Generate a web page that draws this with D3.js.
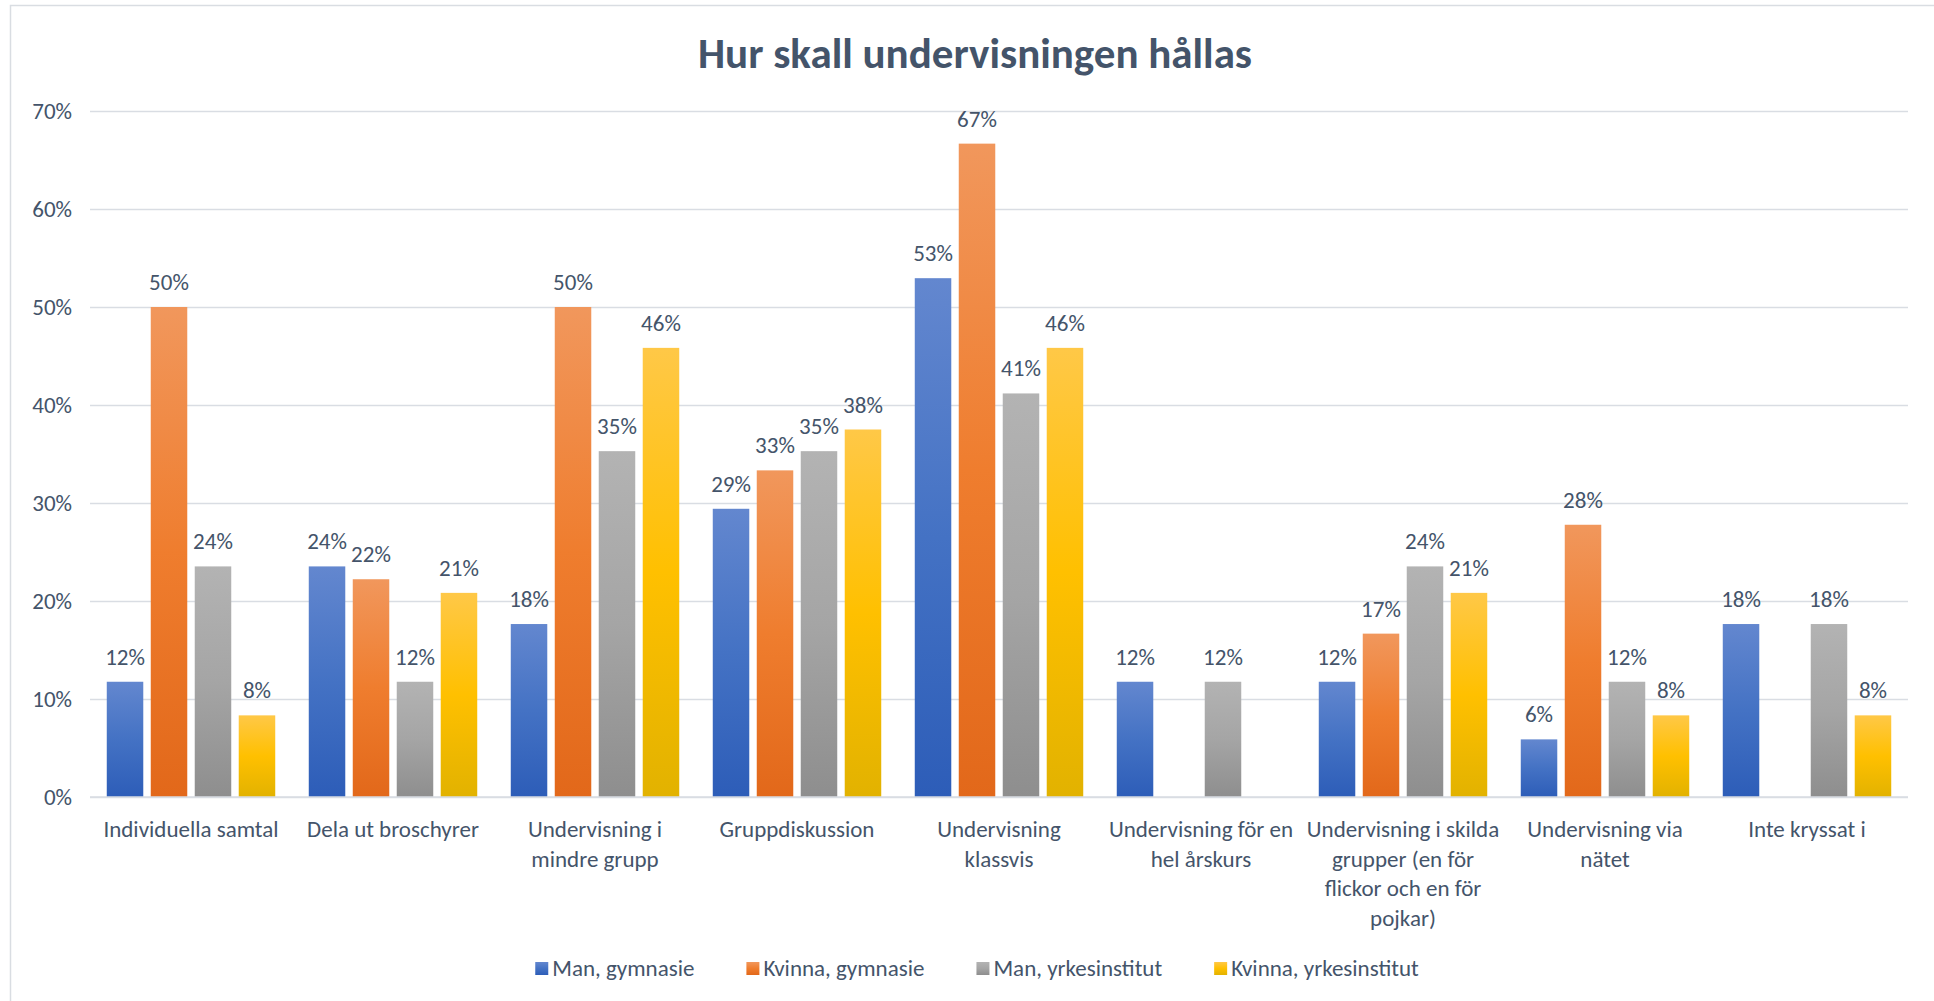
<!DOCTYPE html>
<html>
<head>
<meta charset="utf-8">
<script src="https://cdn.jsdelivr.net/npm/d3@7"></script>
<style>
  html, body { margin: 0; padding: 0; background: #ffffff; }
  svg { display: block; }
  text { font-family: Carlito, Lato, "Noto Sans", sans-serif; fill: #44546a; }
</style>
</head>
<body>
<script>
const titleText = "Hur skall undervisningen hållas";

const categories = [
  "Individuella samtal",
  "Dela ut broschyrer",
  "Undervisning i\nmindre grupp",
  "Gruppdiskussion",
  "Undervisning\nklassvis",
  "Undervisning för en\nhel årskurs",
  "Undervisning i skilda\ngrupper (en för\nflickor och en för\npojkar)",
  "Undervisning via\nnätet",
  "Inte kryssat i"
];

const seriesNames = ["Man, gymnasie", "Kvinna, gymnasie", "Man, yrkesinstitut", "Kvinna, yrkesinstitut"];

const manGymnasie      = [0.1176, 0.2353, 0.1765, 0.2941, 0.5294, 0.1176, 0.1176, 0.0588, 0.1765];
const kvinnaGymnasie   = [0.5000, 0.2222, 0.5000, 0.3333, 0.6667, 0.0000, 0.1667, 0.2778, 0.0000];
const manYrkes         = [0.2353, 0.1176, 0.3529, 0.3529, 0.4118, 0.1176, 0.2353, 0.1176, 0.1765];
const kvinnaYrkes      = [0.0833, 0.2083, 0.4583, 0.3750, 0.4583, 0.0000, 0.2083, 0.0833, 0.0833];

const yTicks = [0, 0.1, 0.2, 0.3, 0.4, 0.5, 0.6, 0.7];

const seriesValues = [manGymnasie, kvinnaGymnasie, manYrkes, kvinnaYrkes];
const seriesColors = [
  ["#6387cf", "#4472c4", "#2d5db8"],
  ["#f1975c", "#ef7d2e", "#e2681a"],
  ["#b3b3b3", "#a5a5a5", "#8e8e8e"],
  ["#ffc847", "#ffc000", "#e2b200"]
];

const W = 1934, H = 1001;
const margin = { left: 90, right: 26, top: 111, bottom: 204 };
const plotLeft = margin.left, plotRight = W - margin.right;
const plotTop = margin.top, plotBottom = H - margin.bottom;
const FS = 23;

const svg = d3.select("body").append("svg").attr("width", W).attr("height", H);

// gradients
const defs = svg.append("defs");
seriesColors.forEach((c, i) => {
  const g = defs.append("linearGradient").attr("id", "grad" + i)
    .attr("x1", 0).attr("y1", 0).attr("x2", 0).attr("y2", 1);
  g.append("stop").attr("offset", "0%").attr("stop-color", c[0]);
  g.append("stop").attr("offset", "50%").attr("stop-color", c[1]);
  g.append("stop").attr("offset", "100%").attr("stop-color", c[2]);
});

// chart border
svg.append("rect").attr("x", 10.5).attr("y", 5.5).attr("width", 3000).attr("height", 3000)
  .attr("fill", "none").attr("stroke", "#d9dde2").attr("stroke-width", 1.5);

// title
svg.append("text").attr("x", 975).attr("y", 68).attr("text-anchor", "middle")
  .attr("font-size", 43).attr("font-weight", "bold").text(titleText);

const x0 = d3.scaleBand().domain(categories).range([plotLeft, plotRight])
  .paddingInner(0.166).paddingOuter(0.083);
const x1 = d3.scaleBand().domain(d3.range(seriesNames.length)).range([0, x0.bandwidth()])
  .paddingInner(0.17).paddingOuter(0);
const y = d3.scaleLinear().domain([0, 0.7]).range([plotBottom, plotTop]);

// gridlines + y axis
const yAxis = d3.axisLeft(y).tickValues(yTicks).tickFormat(d3.format(".0%"))
  .tickSize(-(plotRight - plotLeft)).tickPadding(18);
const ya = svg.append("g").attr("transform", `translate(${plotLeft},0)`).call(yAxis);
ya.select(".domain").remove();
ya.selectAll(".tick line").attr("stroke", "#d9dde3").attr("stroke-width", 1.6);
ya.selectAll(".tick text").attr("font-size", FS).attr("fill", "#44546a")
  .style("font-family", "Carlito, Lato, 'Noto Sans', sans-serif");

// bars
const groups = svg.append("g").selectAll("g").data(categories).join("g")
  .attr("transform", d => `translate(${x0(d)},0)`);

groups.each(function(cat, ci) {
  const g = d3.select(this);
  seriesValues.forEach((vals, si) => {
    const v = vals[ci];
    if (v > 0) {
      g.append("rect")
        .attr("x", x1(si)).attr("width", x1.bandwidth())
        .attr("y", y(v)).attr("height", y(0) - y(v))
        .attr("fill", `url(#grad${si})`);
      g.append("text")
        .attr("x", x1(si) + x1.bandwidth() / 2).attr("y", y(v) - 17)
        .attr("text-anchor", "middle").attr("font-size", FS)
        .text(d3.format(".0%")(v));
    }
  });
});

// x axis baseline
svg.append("line").attr("x1", plotLeft).attr("x2", plotRight)
  .attr("y1", y(0)).attr("y2", y(0)).attr("stroke", "#d9dde3").attr("stroke-width", 1.6);

// x axis labels
const xAxis = d3.axisBottom(x0).tickSize(0).tickPadding(0).tickFormat("");
const xa = svg.append("g").attr("transform", `translate(0,${plotBottom})`).call(xAxis);
xa.select(".domain").remove();
xa.selectAll(".tick").each(function(d) {
  const t = d3.select(this).append("text").attr("text-anchor", "middle").attr("font-size", FS);
  d.split("\n").forEach((line, i) => {
    t.append("tspan").attr("x", 0).attr("y", 40 + i * 29.5).text(line);
  });
});

// legend
const legend = svg.append("g");
let lx = 0;
seriesNames.forEach((name, i) => {
  const item = legend.append("g").attr("transform", `translate(${lx},0)`);
  item.append("rect").attr("x", 0).attr("y", -14).attr("width", 13).attr("height", 13)
    .attr("fill", `url(#grad${i})`);
  const t = item.append("text").attr("x", 17).attr("y", 0).attr("font-size", FS).text(name);
  lx += 17 + t.node().getComputedTextLength() + 52;
});
const legendW = lx - 52;
legend.attr("transform", `translate(${977 - legendW / 2},${976})`);
</script>
</body>
</html>
